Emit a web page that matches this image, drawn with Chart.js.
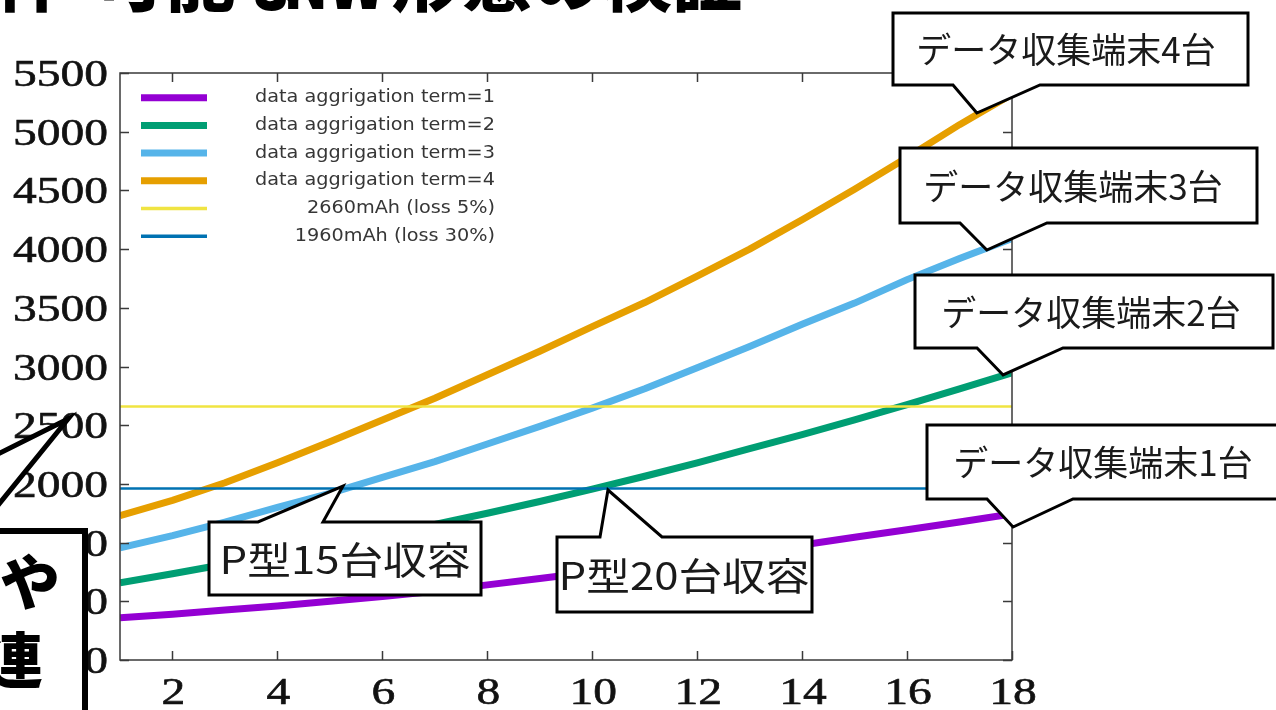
<!DOCTYPE html>
<html>
<head>
<meta charset="utf-8">
<script src="https://cdn.jsdelivr.net/npm/chart.js@4.4.1/dist/chart.umd.min.js"></script>
<style>
  html, body { margin: 0; padding: 0; background: #fff; overflow: hidden; }
  canvas { display: block; }
</style>
</head>
<body>
<canvas id="c" width="1276" height="710"></canvas>
<script>
// Number of collection terminals / P-type units on the x axis
const nodes = [1, 2, 3, 4, 5, 6, 7, 8, 9, 10, 11, 12, 13, 14, 15, 16, 17, 18];

// Consumption (mAh) per aggregation term
const term1 = [860, 890, 925, 960, 1000, 1040, 1085, 1140, 1195, 1250, 1305, 1360, 1420, 1480, 1545, 1610, 1675, 1745];
const term2 = [1157, 1235, 1315, 1395, 1480, 1565, 1655, 1750, 1850, 1955, 2065, 2180, 2300, 2420, 2545, 2675, 2810, 2945];
const term3 = [1456, 1560, 1675, 1800, 1920, 2055, 2190, 2340, 2490, 2645, 2810, 2990, 3170, 3360, 3540, 3740, 3920, 4090];
const term4 = [1729, 1860, 2010, 2180, 2360, 2545, 2730, 2930, 3130, 3340, 3545, 3770, 4000, 4250, 4510, 4780, 5060, 5320];

// Battery capacity reference levels (mAh)
const batteryLevels = [2660, 1960];

const seriesLabels = [
  'data aggrigation term=1',
  'data aggrigation term=2',
  'data aggrigation term=3',
  'data aggrigation term=4',
  '2660mAh (loss 5%)',
  '1960mAh (loss 30%)'
];
const seriesColors = ['#9400d3', '#009e73', '#56b4e9', '#e69f00', '#f0e442', '#0072b2'];

const xTicks = [2, 4, 6, 8, 10, 12, 14, 16, 18];
const yTicks = [500, 1000, 1500, 2000, 2500, 3000, 3500, 4000, 4500, 5000, 5500];

// Speech-bubble notes: "at" is the pointed-to spot in data units
const notes = [
  { text: 'データ収集端末4台', at: [17.33, 5159], box: [893, 13, 1248, 85],  side: 'bottom', base: [953, 1040], size: 35, sx: 1, tx: 1066 },
  { text: 'データ収集端末3台', at: [17.52, 3992], box: [900, 148, 1257, 223], side: 'bottom', base: [960, 1047], size: 35, sx: 1, tx: 1073 },
  { text: 'データ収集端末2台', at: [17.83, 2928], box: [915, 275, 1273, 348], side: 'bottom', base: [977, 1063], size: 35, sx: 1, tx: 1091 },
  { text: 'データ収集端末1台', at: [18.02, 1633], box: [927, 425, 1295, 499], side: 'bottom', base: [987, 1073], size: 35, sx: 1, tx: 1103 },
  { text: 'P型15台収容', at: [5.25, 1982],  box: [209, 522, 481, 595], side: 'top', base: [258, 323], size: 38, sx: 1.15, tx: 345 },
  { text: 'P型20台収容', at: [10.30, 1948], box: [557, 537, 812, 612], side: 'top', base: [600, 662], size: 38, sx: 1.15, tx: 684 }
];

const datasets = [term1, term2, term3, term4].map((vals, i) => ({
  label: seriesLabels[i],
  data: nodes.map((x, j) => ({ x: x, y: vals[j] })),
  borderColor: seriesColors[i],
  backgroundColor: seriesColors[i],
  borderWidth: 7,
  pointRadius: 0,
  borderJoinStyle: 'round',
  order: 1
}));
batteryLevels.forEach((lvl, k) => {
  datasets.push({
    label: seriesLabels[4 + k],
    data: [{ x: nodes[0], y: lvl }, { x: nodes[nodes.length - 1], y: lvl }],
    borderColor: seriesColors[4 + k],
    backgroundColor: seriesColors[4 + k],
    borderWidth: 2.5,
    pointRadius: 0,
    order: 0
  });
});

function stretchText(ctx, text, x, y, align, sx, outline) {
  ctx.save();
  ctx.translate(x, y);
  ctx.scale(sx, 1);
  ctx.textAlign = align;
  if (outline) {
    ctx.lineWidth = outline;
    ctx.strokeStyle = ctx.fillStyle;
    ctx.strokeText(text, 0, 0);
  }
  ctx.fillText(text, 0, 0);
  ctx.restore();
}

// gnuplot-style frame, inward ticks, tick labels and key
const framePlugin = {
  id: 'frame',
  afterDatasetsDraw(chart) {
    const { ctx, chartArea: a, scales: { x, y } } = chart;
    ctx.save();
    ctx.strokeStyle = '#3a3a3a';
    ctx.lineWidth = 1.5;
    ctx.strokeRect(a.left, a.top, a.right - a.left, a.bottom - a.top);
    const tl = 9;
    ctx.beginPath();
    y.ticks.forEach(t => {
      const py = Math.round(y.getPixelForValue(t.value)) + 0.5;
      ctx.moveTo(a.left, py); ctx.lineTo(a.left + tl, py);
      ctx.moveTo(a.right, py); ctx.lineTo(a.right - tl, py);
    });
    x.ticks.forEach(t => {
      const px = Math.round(x.getPixelForValue(t.value)) + 0.5;
      ctx.moveTo(px, a.bottom); ctx.lineTo(px, a.bottom - tl);
      ctx.moveTo(px, a.top); ctx.lineTo(px, a.top + tl);
    });
    ctx.stroke();

    ctx.fillStyle = '#111111';
    ctx.font = "38px 'Liberation Serif'";
    ctx.textBaseline = 'alphabetic';
    y.ticks.forEach(t => {
      const py = y.getPixelForValue(t.value);
      stretchText(ctx, String(t.value), a.left - 12, py + 13, 'right', 1.25, 0.6);
    });
    x.ticks.forEach(t => {
      const px = x.getPixelForValue(t.value);
      stretchText(ctx, String(t.value), px + 1, a.bottom + 44, 'center', 1.25, 0.6);
    });

    // key
    ctx.font = "17.5px 'DejaVu Sans'";
    ctx.textBaseline = 'middle';
    chart.data.datasets.forEach((ds, i) => {
      const ky = 97.7 + i * 27.7;
      ctx.strokeStyle = ds.borderColor;
      ctx.lineWidth = ds.borderWidth >= 5 ? 7 : 3.5;
      ctx.beginPath();
      ctx.moveTo(141, ky); ctx.lineTo(207, ky);
      ctx.stroke();
      ctx.fillStyle = '#363636';
      stretchText(ctx, ds.label, 495, ky, 'right', 1.1);
    });
    ctx.restore();
  },
  afterDraw(chart) {
    const { ctx, scales: { x, y } } = chart;
    ctx.save();
    // bubbles
    notes.forEach(n => {
      const tx = x.getPixelForValue(n.at[0]);
      const ty = y.getPixelForValue(n.at[1]);
      const [x0, y0, x1, y1] = n.box;
      ctx.beginPath();
      ctx.moveTo(x0, y0);
      if (n.side === 'top') { ctx.lineTo(n.base[0], y0); ctx.lineTo(tx, ty); ctx.lineTo(n.base[1], y0); }
      ctx.lineTo(x1, y0);
      ctx.lineTo(x1, y1);
      if (n.side === 'bottom') { ctx.lineTo(n.base[1], y1); ctx.lineTo(tx, ty); ctx.lineTo(n.base[0], y1); }
      ctx.lineTo(x0, y1);
      ctx.closePath();
      ctx.fillStyle = '#ffffff';
      ctx.fill();
      ctx.lineWidth = 3;
      ctx.lineJoin = 'miter';
      ctx.strokeStyle = '#000000';
      ctx.stroke();
      ctx.fillStyle = '#1a1a1a';
      ctx.font = n.size + "px 'Noto Sans CJK JP'";
      ctx.textBaseline = 'middle';
      stretchText(ctx, n.text, n.tx, (y0 + y1) / 2 + 1, 'center', n.sx);
    });

    // slide heading
    ctx.fillStyle = '#000000';
    ctx.textBaseline = 'alphabetic';
    ctx.textAlign = 'left';
    ctx.font = "900 70px 'Noto Sans CJK JP'";
    ctx.fillText('件', -4, 6);
    ctx.fillText('可能な', 95, 6);
    stretchText(ctx, 'NW', 283, 9, 'left', 0.85);
    ctx.fillText('形態の検証', 392, 6);

    // side note box with its pointer
    ctx.beginPath();
    ctx.moveTo(-10, 458);
    ctx.lineTo(68, 419);
    ctx.lineTo(-10, 515);
    ctx.closePath();
    ctx.fillStyle = '#ffffff';
    ctx.fill();
    ctx.lineWidth = 5;
    ctx.strokeStyle = '#000000';
    ctx.lineJoin = 'miter';
    ctx.stroke();

    ctx.fillStyle = '#ffffff';
    ctx.fillRect(-10, 531, 95, 200);
    ctx.lineWidth = 6;
    ctx.strokeRect(-10, 531, 95, 200);
    ctx.fillStyle = '#000000';
    ctx.font = "900 60px 'Noto Sans CJK JP'";
    ctx.textBaseline = 'middle';
    ctx.textAlign = 'right';
    ctx.fillText('や', 60, 582);
    ctx.fillText('連', 43, 660);
    ctx.restore();
  }
};

new Chart(document.getElementById('c'), {
  type: 'line',
  data: { datasets: datasets },
  options: {
    responsive: false,
    devicePixelRatio: 1,
    animation: false,
    layout: { padding: { left: 120, right: 264, top: 73, bottom: 50 } },
    plugins: { legend: { display: false }, tooltip: { enabled: false } },
    scales: {
      x: {
        type: 'linear', min: 1, max: 18,
        grid: { display: false }, border: { display: false },
        ticks: { display: false },
        afterBuildTicks: s => { s.ticks = xTicks.map(v => ({ value: v })); },
        afterFit: s => { s.height = 0; }
      },
      y: {
        type: 'linear', min: 500, max: 5500,
        grid: { display: false }, border: { display: false },
        ticks: { display: false },
        afterBuildTicks: s => { s.ticks = yTicks.map(v => ({ value: v })); },
        afterFit: s => { s.width = 0; }
      }
    }
  },
  plugins: [framePlugin]
});
</script>
</body>
</html>
